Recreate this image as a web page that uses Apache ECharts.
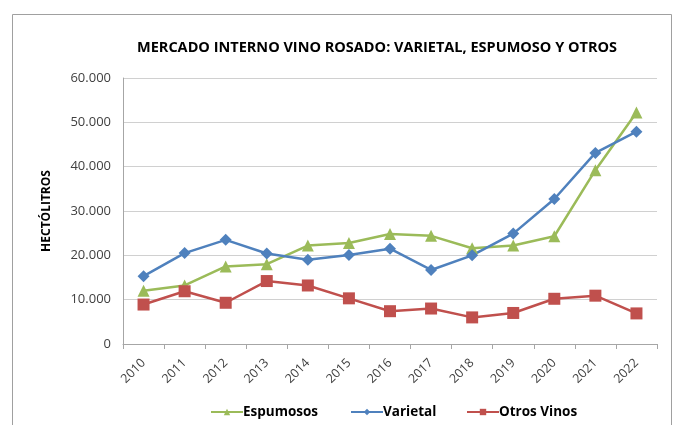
<!DOCTYPE html>
<html>
<head>
<meta charset="utf-8">
<script src="https://cdn.jsdelivr.net/npm/echarts@6/dist/echarts.min.js"></script>
<style>html,body{margin:0;padding:0;background:#fff}#c{width:680px;height:425px}</style>
</head>
<body>
<div id="c"></div>
<script>
const years = ['2010','2011','2012','2013','2014','2015','2016','2017','2018','2019','2020','2021','2022'];
const espumosos = [12000,13200,17500,18000,22200,22800,24800,24400,21600,22200,24300,39200,52200];
const varietal = [15300,20500,23500,20400,19000,20100,21500,16700,20000,24900,32700,43100,47900];
const otrosVinos = [8900,11900,9300,14200,13200,10300,7400,8000,6000,7000,10200,10900,6900];
const seriesNames = ['Espumosos','Varietal','Otros Vinos'];

const FONT = 'Open Sans, sans-serif';
const chart = echarts.init(document.getElementById('c'), null, {renderer:'canvas'});
function fmt(v){ return v === 0 ? '0' : String(v).replace(/\B(?=(\d{3})+(?!\d))/g, '.'); }
function mk(name, data, color, symbol, size){
  return {name, type:'line', data, symbol, symbolSize:size, showSymbol:true,
    lineStyle:{color, width:2.5}, itemStyle:{color}, emphasis:{disabled:true}, z:3};
}
const legendLefts = [205, 345, 461];
chart.setOption({
  animation:false,
  backgroundColor:'#fff',
  title:{text:'MERCADO INTERNO VINO ROSADO: VARIETAL, ESPUMOSO Y OTROS', left:372, top:35, textAlign:'center',
    textStyle:{fontFamily:FONT, fontSize:14.5, fontWeight:'bold', color:'#000'}},
  graphic:[{type:'rect', shape:{x:12.5, y:14.5, width:659, height:420}, style:{fill:null, stroke:'#a0a0a0', lineWidth:1}, silent:true}],
  legend: seriesNames.map((n,i)=>({top:400, left:legendLefts[i], itemWidth:32, itemHeight:8, data:[{name:n}],
    textStyle:{fontFamily:FONT, fontSize:13.5, fontWeight:'bold', color:'#000', padding:[0,0,0,-5]}})),
  grid:{left:123, right:23, top:78, bottom:81},
  xAxis:{type:'category', data:years, boundaryGap:true,
    axisLine:{lineStyle:{color:'#a6a6a6'}}, axisTick:{show:true, alignWithLabel:false, length:5, lineStyle:{color:'#a6a6a6'}},
    axisLabel:{rotate:45, fontFamily:FONT, fontSize:12.5, color:'#404040', margin:17}},
  yAxis:{type:'value', min:0, max:60000, interval:10000,
    name:'HECTÓLITROS', nameLocation:'middle', nameGap:70, nameRotate:90,
    nameTextStyle:{fontFamily:FONT, fontSize:12, fontWeight:'bold', color:'#000'},
    axisLine:{show:true, lineStyle:{color:'#a6a6a6'}}, axisTick:{show:false},
    splitLine:{lineStyle:{color:'#d0d0d0', width:1}},
    axisLabel:{fontFamily:FONT, fontSize:13, color:'#404040', margin:12, formatter:fmt}},
  series:[
    mk('Espumosos', espumosos, '#9BBB59', 'triangle', 12),
    mk('Varietal', varietal, '#4F81BD', 'diamond', 12),
    mk('Otros Vinos', otrosVinos, '#C0504D', 'rect', 12)
  ]
});
</script>
</body>
</html>
